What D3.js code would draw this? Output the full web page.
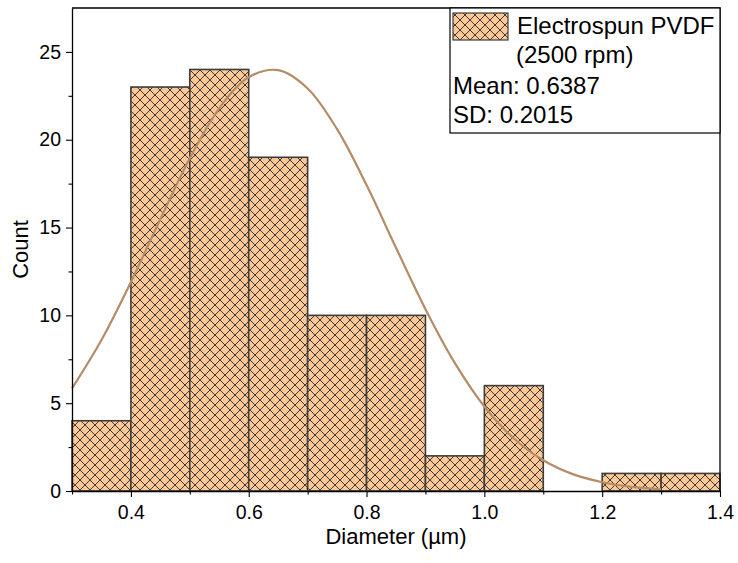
<!DOCTYPE html>
<html>
<head>
<meta charset="utf-8">
<script src="https://cdn.jsdelivr.net/npm/d3@7"></script>
<style>
  body { margin: 0; background: #fff; }
  text { font-family: "Liberation Sans", Arial, sans-serif; fill: #000; }
</style>
</head>
<body>
<svg id="canvas" width="738" height="563"></svg>
<script>
// histogram bins (left edge, width 0.1) and counts
let binStarts = [0.3, 0.4, 0.5, 0.6, 0.7, 0.8, 0.9, 1.0, 1.1, 1.2, 1.3];
let counts = [4, 23, 24, 19, 10, 10, 2, 6, 0, 1, 1];
let binWidth = 0.1;

// fitted normal curve
let curveX = [0.30, 0.35, 0.40, 0.45, 0.50, 0.55, 0.60, 0.65, 0.70, 0.75, 0.80,
              0.85, 0.90, 0.95, 1.00, 1.05, 1.10, 1.15, 1.20, 1.25, 1.30];
let curveY = [5.84, 8.6, 11.9, 15.48, 18.94, 21.79, 23.56, 23.96, 22.92, 20.6, 17.42,
              13.85, 10.35, 7.28, 4.81, 2.99, 1.75, 0.96, 0.5, 0.24, 0.11];

let xTicks = [0.4, 0.6, 0.8, 1.0, 1.2, 1.4];
let xMinor = [0.3, 0.5, 0.7, 0.9, 1.1, 1.3];
let yTicks = [0, 5, 10, 15, 20, 25];
let yMinor = [2.5, 7.5, 12.5, 17.5, 22.5];

let legendLines = ["Electrospun PVDF", "(2500 rpm)", "Mean: 0.6387", "SD: 0.2015"];

let canvas = d3.select("#canvas");

let plotLeft = 72, plotRight = 720, plotTop = 8, plotBottom = 491;

let x = d3.scaleLinear().domain([0.3, 1.4]).range([plotLeft, plotRight]);
let y = d3.scaleLinear().domain([0, 27.5]).range([plotBottom, plotTop]);

// hatch pattern
let hs = 10;
let defs = canvas.append("defs");
let pat = defs.append("pattern")
  .attr("id", "hatch")
  .attr("patternUnits", "userSpaceOnUse")
  .attr("width", hs)
  .attr("height", hs);
pat.append("rect").attr("width", hs).attr("height", hs).attr("fill", "#fdc896");
pat.append("path")
  .attr("d", `M0,0L${hs},${hs}M0,${hs}L${hs},0`)
  .attr("stroke", "#3b3b3b")
  .attr("stroke-width", 1);

// bars
canvas.append("g")
  .selectAll("rect")
  .data(binStarts.map((b, i) => ({ x0: b, c: counts[i] })).filter(d => d.c > 0))
  .enter()
  .append("rect")
  .attr("x", d => x(d.x0))
  .attr("y", d => y(d.c))
  .attr("width", d => x(d.x0 + binWidth) - x(d.x0))
  .attr("height", d => y(0) - y(d.c))
  .attr("fill", "url(#hatch)")
  .attr("stroke", "#3c3c3c")
  .attr("stroke-width", 1.6);

// fitted curve
let line = d3.line()
  .x((d, i) => x(curveX[i]))
  .y(d => y(d))
  .curve(d3.curveCatmullRom);
canvas.append("path")
  .attr("d", line(curveY))
  .attr("fill", "none")
  .attr("stroke", "#b58c66")
  .attr("stroke-width", 2.2);

// frame top/right
canvas.append("path")
  .attr("d", `M${plotLeft},${plotTop}H${plotRight}V${plotBottom}`)
  .attr("fill", "none")
  .attr("stroke", "#000")
  .attr("stroke-width", 1.3);

// x axis
let xAxis = canvas.append("g")
  .attr("transform", `translate(0,${plotBottom})`)
  .call(d3.axisBottom(x).tickValues(xTicks).tickSize(6).tickSizeOuter(0).tickFormat(d3.format(".1f")));
canvas.append("g")
  .attr("transform", `translate(0,${plotBottom})`)
  .call(d3.axisBottom(x).tickValues(xMinor).tickSize(3.5).tickSizeOuter(0).tickFormat(""))
  .select(".domain").remove();

// y axis
let yAxis = canvas.append("g")
  .attr("transform", `translate(${plotLeft},0)`)
  .call(d3.axisLeft(y).tickValues(yTicks).tickSize(6).tickSizeOuter(0));
canvas.append("g")
  .attr("transform", `translate(${plotLeft},0)`)
  .call(d3.axisLeft(y).tickValues(yMinor).tickSize(3.5).tickSizeOuter(0).tickFormat(""))
  .select(".domain").remove();

canvas.selectAll(".domain").attr("stroke", "#000").attr("stroke-width", 1.3);
canvas.selectAll(".tick line").attr("stroke", "#000").attr("stroke-width", 1.1);

xAxis.selectAll("text")
  .attr("font-family", "Liberation Sans, Arial, sans-serif")
  .attr("font-size", 19.5)
  .attr("dy", "0.71em")
  .attr("y", 14);
yAxis.selectAll("text")
  .attr("font-family", "Liberation Sans, Arial, sans-serif")
  .attr("font-size", 19.5)
  .attr("x", -11);

// axis titles
canvas.append("text")
  .attr("x", (plotLeft + plotRight) / 2)
  .attr("y", 544)
  .attr("text-anchor", "middle")
  .attr("font-size", 22)
  .text("Diameter (µm)");

canvas.append("text")
  .attr("transform", `translate(28,${(plotTop + plotBottom) / 2}) rotate(-90)`)
  .attr("text-anchor", "middle")
  .attr("font-size", 22)
  .text("Count");

// legend
let lg = canvas.append("g");
lg.append("rect")
  .attr("x", 450).attr("y", 8)
  .attr("width", 270).attr("height", 125)
  .attr("fill", "#fff")
  .attr("stroke", "#000")
  .attr("stroke-width", 1.2);
lg.append("rect")
  .attr("x", 453).attr("y", 13)
  .attr("width", 55).attr("height", 27)
  .attr("fill", "url(#hatch)")
  .attr("stroke", "#3c3c3c")
  .attr("stroke-width", 1.2);
let legendPos = [[517, 34], [516, 63], [453, 94], [453, 123]];
lg.selectAll("text.leg")
  .data(legendLines)
  .enter()
  .append("text")
  .attr("class", "leg")
  .attr("x", (d, i) => legendPos[i][0])
  .attr("y", (d, i) => legendPos[i][1])
  .attr("font-size", 24)
  .text(d => d);
</script>
</body>
</html>
